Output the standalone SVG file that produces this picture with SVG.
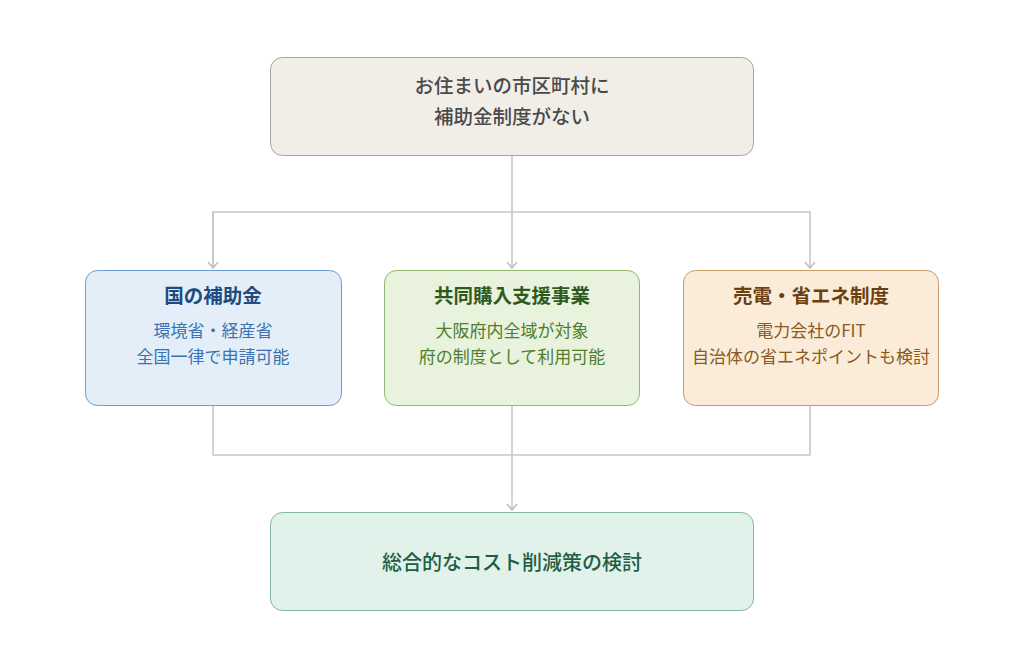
<svg xmlns="http://www.w3.org/2000/svg" width="1024" height="668" viewBox="0 0 1024 668">
<defs>
<style>
text{font-family:"Noto Sans CJK JP","Noto Sans",sans-serif;text-anchor:middle}
.t{font-size:19.5px;font-weight:700}
.s{font-size:17px}
.c{fill:none;stroke:#c8c8c8;stroke-width:1.6}
</style>
<marker id="ar" viewBox="0 0 12 12" refX="11" refY="6" markerWidth="12" markerHeight="12" markerUnits="userSpaceOnUse" orient="auto">
<path d="M5,1 L11,6 L5,11" fill="none" stroke="#c0c0c0" stroke-width="1.6"/>
</marker>
</defs>
<rect width="1024" height="668" fill="#fff"/>
<g id="connectors">
<path class="c" d="M512,156 V268" marker-end="url(#ar)"/>
<path class="c" d="M213,268 V212 H810 V268" marker-end="url(#ar)"/>
<path class="c" d="M213,212 V268" marker-end="url(#ar)"/>
<path class="c" d="M213,406 V455 H810 V406"/>
<path class="c" d="M512,406 V510" marker-end="url(#ar)"/>
</g>
<g id="top">
<rect x="270.5" y="57.5" width="483" height="98" rx="12" fill="#f1eee8" stroke="#a9a59d"/>
<text x="512" y="93" font-size="19.5" font-weight="500" fill="#4a4a4a">お住まいの市区町村に</text>
<text x="512" y="124" font-size="19.5" font-weight="500" fill="#4a4a4a">補助金制度がない</text>
</g>
<g id="national">
<rect x="85.5" y="270.5" width="256" height="135" rx="12" fill="#e4eef9" stroke="#6d9dd2"/>
<text class="t" x="213" y="303" fill="#1f4b80">国の補助金</text>
<text class="s" x="213" y="337" fill="#3a72b0">環境省・経産省</text>
<text class="s" x="213" y="363" fill="#3a72b0">全国一律で申請可能</text>
</g>
<g id="joint">
<rect x="384.5" y="270.5" width="255" height="135" rx="12" fill="#e8f2dd" stroke="#90b872"/>
<text class="t" x="512" y="303" fill="#2f5a1e">共同購入支援事業</text>
<text class="s" x="512" y="337" fill="#4f7e2f">大阪府内全域が対象</text>
<text class="s" x="512" y="363" fill="#4f7e2f">府の制度として利用可能</text>
</g>
<g id="sale">
<rect x="683.5" y="270.5" width="255" height="135" rx="12" fill="#fbecd9" stroke="#c99b68"/>
<text class="t" x="811" y="303" fill="#6b3f12">売電・省エネ制度</text>
<text class="s" x="811" y="337" fill="#8a5a22">電力会社のFIT</text>
<text class="s" x="811" y="363" fill="#8a5a22">自治体の省エネポイントも検討</text>
</g>
<g id="bottom">
<rect x="270.5" y="512.5" width="483" height="98" rx="12" fill="#e0f2ea" stroke="#82b79f"/>
<text x="512" y="570" font-size="20" font-weight="500" fill="#1e5e45">総合的なコスト削減策の検討</text>
</g>
</svg>
